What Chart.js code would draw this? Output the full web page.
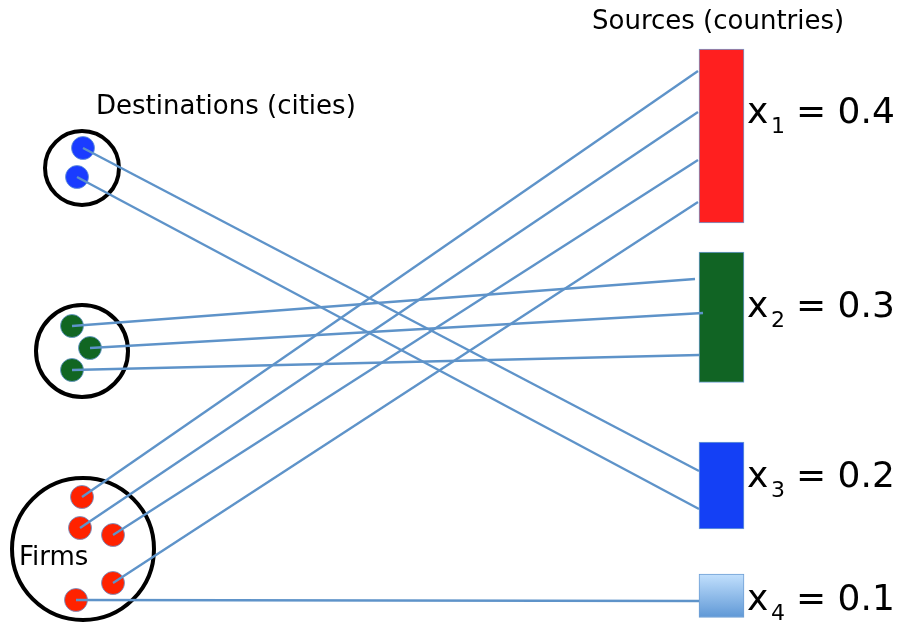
<!DOCTYPE html>
<html>
<head>
<meta charset="utf-8">
<script src="https://cdn.jsdelivr.net/npm/chart.js@4.4.1/dist/chart.umd.min.js"></script>
<style>
  html, body { margin: 0; padding: 0; background: #fff; }
  #wrap { width: 897px; height: 626px; }
</style>
</head>
<body>
<div id="wrap"><canvas id="chart" width="897" height="626"></canvas></div>
<script>
// Data: source countries and their shares
const sources = ['1', '2', '3', '4'];
const shares = [0.4, 0.3, 0.2, 0.1];
const destinations = ['blue', 'green'];
const firmsLabel = 'Firms';

// Layout (canvas units, y grows downward)
const unitHeight = 435;               // pixels for a share of 1.0
const barX = 721.5;
const barTops = [49, 252, 442, 574];
const barColors = ['#ff1f1f', '#116424', '#1440f5', null];
const labelBase = [123, 317, 487, 610];

const groupCircles = [
  { x: 82, y: 168, r: 37 },
  { x: 82, y: 351, r: 46 },
  { x: 83, y: 549, r: 71 }
];
const blueDots = [{ x: 83, y: 148 }, { x: 77, y: 177 }];
const greenDots = [{ x: 72, y: 326 }, { x: 90, y: 348 }, { x: 72, y: 370 }];
const redDots = [{ x: 82, y: 497 }, { x: 80, y: 528 }, { x: 113, y: 535 }, { x: 113, y: 583 }, { x: 76, y: 600 }];

// links: [dot, end point on source bar]
const links = [
  [blueDots[0], { x: 699, y: 471 }],
  [blueDots[1], { x: 699, y: 509 }],
  [greenDots[0], { x: 695, y: 279 }],
  [greenDots[1], { x: 703, y: 313 }],
  [greenDots[2], { x: 699, y: 355 }],
  [redDots[0], { x: 698, y: 71 }],
  [redDots[1], { x: 698, y: 112 }],
  [redDots[2], { x: 698, y: 160 }],
  [redDots[3], { x: 698, y: 202 }],
  [redDots[4], { x: 699, y: 601 }]
];

const lineColor = '#5e93c9';

const datasets = [];

links.forEach(l => {
  datasets.push({
    type: 'scatter',
    data: [l[0], l[1]],
    showLine: true,
    borderColor: lineColor,
    borderWidth: 2.4,
    pointRadius: 0,
    clip: false,
    order: 0
  });
});

function dotSet(points, color) {
  return {
    type: 'scatter',
    data: points,
    pointRadius: 11.5,
    pointBackgroundColor: color,
    pointBorderColor: 'rgba(100,150,210,0.8)',
    pointBorderWidth: 1,
    clip: false,
    order: 1
  };
}
datasets.push(dotSet(blueDots, '#1a3cff'));
datasets.push(dotSet(greenDots, '#116622'));
datasets.push(dotSet(redDots, '#ff2200'));

groupCircles.forEach(c => {
  datasets.push({
    type: 'scatter',
    data: [{ x: c.x, y: c.y }],
    pointRadius: c.r,
    pointBackgroundColor: 'rgba(0,0,0,0)',
    pointBorderColor: '#000',
    pointBorderWidth: 4,
    clip: false,
    order: 2
  });
});

datasets.push({
  type: 'bar',
  data: shares.map((v, i) => ({ x: barX, y: [barTops[i], barTops[i] + v * unitHeight] })),
  barThickness: 45,
  borderWidth: 1,
  borderColor: '#6f9fd4',
  borderSkipped: false,
  clip: false,
  backgroundColor: c => {
    if (barColors[c.dataIndex]) return barColors[c.dataIndex];
    const y = c.chart.scales.y;
    if (!y) return '#8fbbe8';
    const top = barTops[c.dataIndex];
    const g = c.chart.ctx.createLinearGradient(0, y.getPixelForValue(top), 0, y.getPixelForValue(top + shares[c.dataIndex] * unitHeight));
    g.addColorStop(0, '#c2e0fd');
    g.addColorStop(1, '#5f98d6');
    return g;
  },
  order: 3
});

const textPlugin = {
  id: 'texts',
  afterDraw(chart) {
    const ctx = chart.ctx;
    const xs = chart.scales.x, ys = chart.scales.y;
    const px = v => xs.getPixelForValue(v), py = v => ys.getPixelForValue(v);
    ctx.save();
    ctx.fillStyle = '#000';
    ctx.textBaseline = 'alphabetic';
    ctx.font = '26px "DejaVu Sans"';
    ctx.fillText('Sources (countries)', px(592), py(29));
    ctx.fillText('Destinations (cities)', px(96), py(114));
    ctx.fillText(firmsLabel, px(19), py(565));
    sources.forEach((s, i) => {
      const b = labelBase[i];
      ctx.font = '36px "DejaVu Sans"';
      ctx.fillText('x', px(747), py(b));
      ctx.font = '22px "DejaVu Sans"';
      ctx.fillText(s, px(771), py(b + 10));
      ctx.font = '36px "DejaVu Sans"';
      ctx.fillText('= ' + shares[i].toFixed(1), px(796), py(b));
    });
    ctx.restore();
  }
};

new Chart(document.getElementById('chart'), {
  type: 'scatter',
  data: { datasets },
  options: {
    responsive: false,
    animation: false,
    events: [],
    layout: { padding: 0, autoPadding: false },
    plugins: { legend: { display: false }, tooltip: { enabled: false } },
    scales: {
      x: { type: 'linear', min: 0, max: 897, offset: false, display: false },
      y: { type: 'linear', min: 0, max: 626, reverse: true, offset: false, display: false }
    }
  },
  plugins: [textPlugin]
});
</script>
</body>
</html>
